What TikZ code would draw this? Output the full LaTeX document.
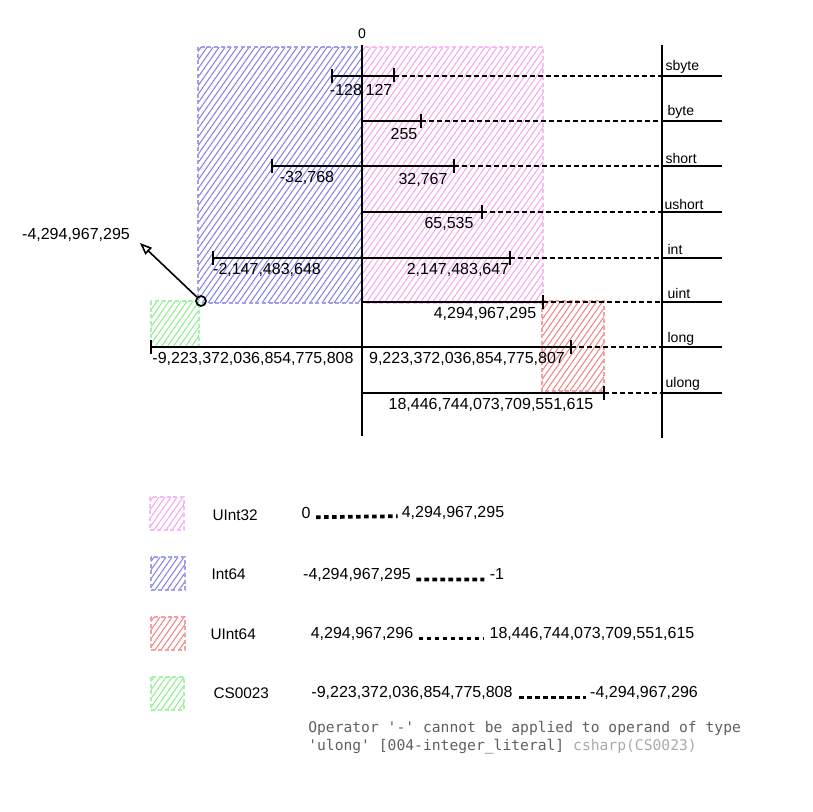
\documentclass[tikz,border=0pt]{standalone}
\usepackage{fontspec}
\setmainfont{Liberation Sans}
\setmonofont{DejaVu Sans Mono}
\usetikzlibrary{arrows.meta}
\definecolor{pinkc}{RGB}{246,165,240}
\definecolor{bluec}{RGB}{128,128,232}
\definecolor{redc}{RGB}{238,130,130}
\definecolor{greenc}{RGB}{140,238,140}
\definecolor{msggray}{RGB}{95,95,95}
\definecolor{msglight}{RGB}{170,170,170}
\newcommand\myhatchbox[5]{%
  \begin{scope}
    \clip (#2,#3) rectangle (#4,#5);
    \foreach \s in {-182,-176,...,190}{
      \draw[hatchline=#1] ({#2+\s},#5) -- ({#2+\s+0.7*(#5-#3)},#3);
    }
  \end{scope}
  \draw[hatchedge=#1] (#2,#3) rectangle (#4,#5);
}
\begin{document}
\begin{tikzpicture}[x=0.75pt,y=-0.75pt,
 hatchline/.style={draw=#1, line width=0.75pt},
 hatchedge/.style={draw=#1!75, dash pattern=on 3pt off 2pt, line width=0.8pt},
 zaxisline/.style={line width=1.7pt, black},
 rngline/.style={line width=1.4pt},
 tickmark/.style={line width=1.2pt},
 guideline/.style={dash pattern=on 4pt off 2pt, line width=1.1pt},
 stubline/.style={line width=1.3pt},
 numlbl/.style={font=\fontsize{12}{14}\selectfont, inner sep=1pt},
 typelbl/.style={font=\fontsize{10.5}{12}\selectfont, anchor=west, inner sep=1pt},
 legtxt/.style={font=\fontsize{12}{14}\selectfont, inner sep=1pt},
 legname/.style={font=\fontsize{11.5}{14}\selectfont, anchor=west, inner sep=1pt},
 legdots/.style={line width=2.8pt, dash pattern=on 3.5pt off 2.5pt},
 msgtxt/.style={font=\ttfamily\fontsize{11}{14}\selectfont, anchor=west, inner sep=0pt, text=msggray}
]
\useasboundingbox (0,0) rectangle (813,812);

% coloured regions
\myhatchbox{bluec}{198}{47}{362}{303}
\myhatchbox{pinkc}{362}{47}{543}{303}
\myhatchbox{redc}{542}{301}{604}{391}
\myhatchbox{greenc}{151}{301}{199}{347}

% axes
\coordinate (zt) at (362,45);
\coordinate (zb) at (362,436);
\coordinate (rt) at (662,45);
\coordinate (rb) at (662,438);
\draw[zaxisline] (zt) -- (zb);
\draw[zaxisline,line width=1.5pt] (rt) -- (rb);
\node[font=\fontsize{10.5}{12}\selectfont] (zero) at (362,34) {0};

% row end points
\foreach \n/\y in {sb/76,by/121,sh/166,us/212,in/258,ui/302,lo/347,ul/393}{
  \coordinate (\n E) at (662,\y);
  \coordinate (\n S) at (722,\y);
  \draw[stubline] (\n E) -- (\n S);
}

% sbyte
\coordinate (sbL) at (332,76); \coordinate (sbR) at (394,76);
\draw[rngline] (sbL) -- (sbR);
\draw[tickmark] (sbL) ++(0,-7) -- ++(0,14);
\draw[tickmark] (sbR) ++(0,-8) -- ++(0,14);
\draw[guideline] (sbR) -- (sbE);
\node[numlbl] (sbl) at (346,90) {-128};
\node[numlbl] (sbr) at (379,90) {127};
\node[typelbl] (sbn) at (664,67) {sbyte};

% byte
\coordinate (byL) at (362,121); \coordinate (byR) at (421,121);
\draw[rngline] (byL) -- (byR);
\draw[tickmark] (byR) ++(0,-7) -- ++(0,14);
\draw[guideline] (byR) -- (byE);
\node[numlbl] (byr) at (404,134) {255};
\node[typelbl] (byn) at (666,112) {byte};

% short
\coordinate (shL) at (272,166); \coordinate (shR) at (454,166);
\draw[rngline] (shL) -- (shR);
\draw[tickmark] (shL) ++(0,-7) -- ++(0,14);
\draw[tickmark] (shR) ++(0,-7) -- ++(0,14);
\draw[guideline] (shR) -- (shE);
\node[numlbl] (shl) at (307,178) {-32,768};
\node[numlbl] (shr) at (423,180) {32,767};
\node[typelbl] (shn) at (664,159) {short};

% ushort
\coordinate (usL) at (362,212); \coordinate (usR) at (482,212);
\draw[rngline] (usL) -- (usR);
\draw[tickmark] (usR) ++(0,-7) -- ++(0,14);
\draw[guideline] (usR) -- (usE);
\node[numlbl] (usr) at (449,224) {65,535};
\node[typelbl] (usn) at (663,204) {ushort};

% int
\coordinate (inL) at (213,258); \coordinate (inR) at (510,258);
\draw[rngline,line width=1.8pt] (inL) -- (inR);
\draw[tickmark] (inL) ++(0,-7) -- ++(0,14);
\draw[tickmark] (inR) ++(0,-7) -- ++(0,14);
\draw[guideline] (inR) -- (inE);
\node[numlbl] (inl) at (267,270) {-2,147,483,648};
\node[numlbl] (inr) at (458,270) {2,147,483,647};
\node[typelbl] (inn) at (666,249) {int};

% uint
\coordinate (uiL) at (362,302); \coordinate (uiR) at (543,302);
\draw[rngline] (uiL) -- (uiR);
\draw[tickmark] (uiR) ++(0,-7) -- ++(0,14);
\draw[guideline] (uiR) -- (uiE);
\node[numlbl] (uir) at (485,314) {4,294,967,295};
\node[typelbl] (uin) at (666,293) {uint};

% long
\coordinate (loL) at (151,347); \coordinate (loR) at (571,347);
\draw[rngline] (loL) -- (loR);
\draw[tickmark] (loL) ++(0,-7) -- ++(0,14);
\draw[tickmark] (loR) ++(0,-7) -- ++(0,14);
\draw[guideline] (loR) -- (loE);
\node[numlbl] (lol) at (253,359) {-9,223,372,036,854,775,808};
\node[numlbl] (lor) at (467,359) {9,223,372,036,854,775,807};
\node[typelbl] (lon) at (666,339) {long};

% ulong
\coordinate (ulL) at (362,393); \coordinate (ulR) at (604,393);
\draw[rngline] (ulL) -- (ulR);
\draw[tickmark] (ulL) ++(0,-7) -- ++(0,14);
\draw[tickmark] (ulR) ++(0,-7) -- ++(0,14);
\draw[guideline] (ulR) -- (ulE);
\node[numlbl] (ulr) at (491,405) {18,446,744,073,709,551,615};
\node[typelbl] (uln) at (664,384) {ulong};

% arrow to -4,294,967,295
\node[draw, circle, line width=1.3pt, minimum size=7.5pt, inner sep=0pt] (dot) at (201,301) {};
\coordinate (tip) at (140,243);
\draw[line width=1.2pt, -{Triangle[open,length=9pt,width=7pt]}] (dot) -- (tip);
\node[numlbl] (neg) at (76,235) {-4,294,967,295};

% legend
\myhatchbox{pinkc}{150}{497}{184}{530}
\myhatchbox{bluec}{151}{557}{185}{590}
\myhatchbox{redc}{151}{617}{185}{650}
\myhatchbox{greenc}{151}{677}{184}{710}
\node[legname] (n1) at (211,515) {UInt32};
\node[legname] (n2) at (210,574) {Int64};
\node[legname] (n3) at (209,634) {UInt64};
\node[legname] (n4) at (212,693) {CS0023};

\node[legtxt] (a1) at (306,513) {0};
\node[legtxt] (b1) at (453,513) {4,294,967,295};
\node[legtxt] (a2) at (357,575) {-4,294,967,295};
\node[legtxt] (b2) at (497,574) {-1};
\node[legtxt] (a3) at (362,634) {4,294,967,296};
\node[legtxt] (b3) at (592,634) {18,446,744,073,709,551,615};
\node[legtxt] (a4) at (412,693) {-9,223,372,036,854,775,808};
\node[legtxt] (b4) at (644,693) {-4,294,967,296};
\draw[legdots] ([xshift=3pt,yshift=1pt]a1.base east) -- ([xshift=-2pt,yshift=1pt]b1.base west);
\draw[legdots] ([xshift=3pt]a2.base east) -- ([xshift=-3pt]b2.base west);
\draw[legdots] ([xshift=3pt]a3.base east) -- ([xshift=-3pt]b3.base west);
\draw[legdots] ([xshift=4pt]a4.base east) -- ([xshift=-2pt]b4.base west);

\node[msgtxt] (m1) at (308,728) {Operator '-' cannot be applied to operand of type};
\node[msgtxt] (m2) at (308,747) {'ulong' [004-integer\_literal] \textcolor{msglight}{csharp(CS0023)}};
\end{tikzpicture}
\end{document}
